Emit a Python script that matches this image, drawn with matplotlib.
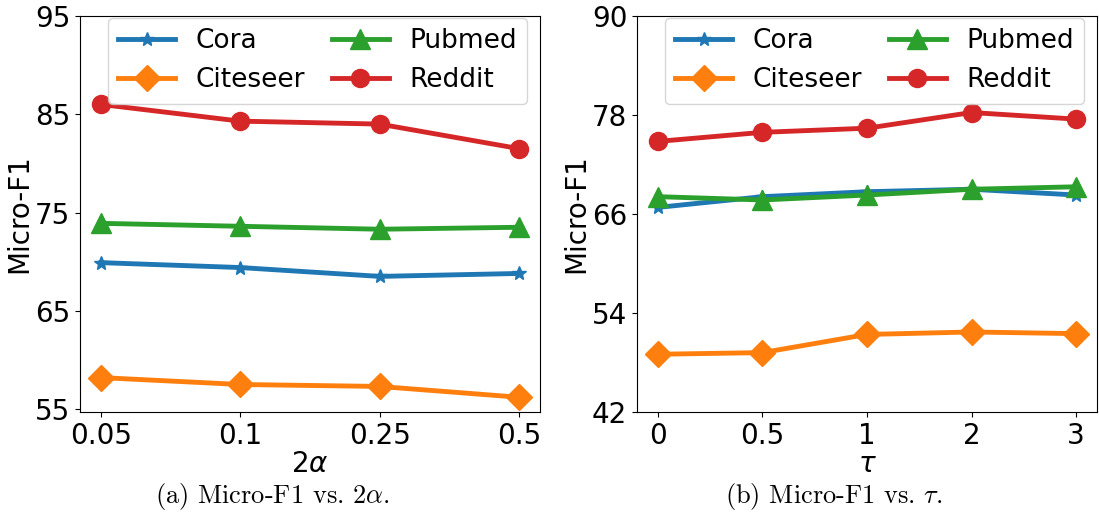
import matplotlib
matplotlib.use("Agg")
import matplotlib.pyplot as plt

# Data
alpha_labels = ["0.05", "0.1", "0.25", "0.5"]
alpha_cora = [69.9, 69.4, 68.5, 68.8]
alpha_citeseer = [58.2, 57.5, 57.3, 56.2]
alpha_pubmed = [73.9, 73.6, 73.3, 73.5]
alpha_reddit = [86.0, 84.3, 84.0, 81.5]

tau_labels = ["0", "0.5", "1", "2", "3"]
tau_cora = [66.8, 68.1, 68.7, 69.0, 68.3]
tau_citeseer = [49.0, 49.2, 51.4, 51.7, 51.5]
tau_pubmed = [68.1, 67.7, 68.3, 69.0, 69.3]
tau_reddit = [74.8, 75.9, 76.4, 78.3, 77.5]

series_names = ["Cora", "Citeseer", "Pubmed", "Reddit"]
colors = ["#1f77b4", "#ff7f0e", "#2ca02c", "#d62728"]
markers = ["*", "D", "^", "o"]
msizes = [10, 13, 14, 13]

fig = plt.figure(figsize=(10.99, 5.15), dpi=100)
ax1 = fig.add_axes([80 / 1099, 1 - 412 / 515, 460 / 1099, 396 / 515])
ax2 = fig.add_axes([637 / 1099, 1 - 412 / 515, 460 / 1099, 396 / 515])

def draw(ax, labels, data, yticks, ylim, xlabel):
    x = list(range(len(labels)))
    for name, vals, c, m, ms in zip(series_names, data, colors, markers, msizes):
        ax.plot(x, vals, color=c, marker=m, markersize=ms, linewidth=3.5, label=name)
    ax.set_xticks(x)
    ax.set_xticklabels(labels)
    ax.set_yticks(yticks)
    ax.set_ylim(*ylim)
    ax.tick_params(labelsize=20)
    ax.set_ylabel("Micro-F1", fontsize=20, labelpad=1)
    ax.set_xlabel(xlabel, fontsize=20, labelpad=0)
    ax.legend(ncol=2, fontsize=19, loc="upper right", bbox_to_anchor=(0.972, 0.996),
              handlelength=2.16, columnspacing=1.0, borderaxespad=0.0,
              handletextpad=0.77, labelspacing=0.5)

draw(ax1, alpha_labels, [alpha_cora, alpha_citeseer, alpha_pubmed, alpha_reddit],
     [55, 65, 75, 85, 95], (54.7, 95), r"$2\alpha$")
draw(ax2, tau_labels, [tau_cora, tau_citeseer, tau_pubmed, tau_reddit],
     [42, 54, 66, 78, 90], (42, 90), r"$\tau$")

fig.text(272 / 1099, 1 - 497 / 515, r"(a) Micro-F1 vs. $2\alpha$.", ha="center", va="center",
         fontsize=19, family="cmr10", math_fontfamily="cm")
fig.text(834 / 1099, 1 - 497 / 515, r"(b) Micro-F1 vs. $\tau$.", ha="center", va="center",
         fontsize=19, family="cmr10", math_fontfamily="cm")

fig.savefig("out.png", dpi=100)
